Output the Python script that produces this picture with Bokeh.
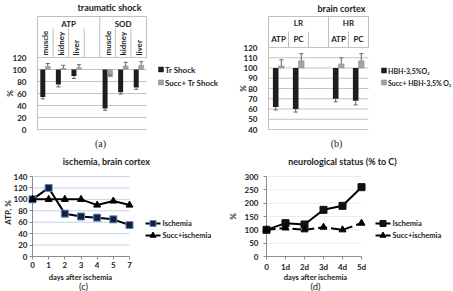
import math
from bokeh.plotting import figure
from bokeh.models import Range1d, FixedTicker, Whisker, ColumnDataSource, TeeHead
from bokeh.layouts import column, row
from bokeh.core.properties import value
from bokeh.embed import file_html
from bokeh.resources import INLINE

FONT = "Lato"
DARK = "#1e1e1e"
LIGHT = "#a3a3a3"
HDR = "#bfbfbf"
TXT = "#222222"

# ---------------- data (a) traumatic shock
a_groups = ["ATP", "ATP", "ATP", "SOD", "SOD", "SOD"]
a_tissues = ["muscle", "kidney", "liver", "muscle", "kidney", "liver"]
a_shock = [54, 75, 89, 35, 62, 70]
a_shock_err = [3, 4, 4, 3, 3, 3]
a_succ = [105, 102, 103, 88, 106, 107]
a_succ_err = [5, 5, 5, 3, 6, 6]
a_base = 100
a_yticks = [0, 20, 40, 60, 80, 100, 120]
a_names = ["Tr Shock", "Succ+ Tr Shock"]

# ---------------- data (b) brain cortex
b_groups = ["LR", "LR", "HR", "HR"]
b_params = ["ATP", "PC", "ATP", "PC"]
b_hbh = [62, 60, 70, 68]
b_hbh_err = [3, 3, 3, 4]
b_succ = [102, 107, 104, 107]
b_succ_err = [6, 7, 6, 7]
b_base = 100
b_yticks = [40, 50, 60, 70, 80, 90, 100, 110, 120]
b_names = ["HBH-3,5%O\u2082", "Succ+ HBH-3,5% O\u2082"]

# ---------------- data (c) ischemia, brain cortex
c_days = ["0", "1", "2", "3", "4", "5", "7"]
c_isch = [100, 120, 75, 70, 68, 65, 55]
c_succ = [100, 100, 100, 100, 90, 97, 90]
c_yticks = [0, 20, 40, 60, 80, 100, 120, 140]

# ---------------- data (d) neurological status
d_days = ["0", "1d", "2d", "3d", "4d", "5d"]
d_isch = [100, 125, 120, 175, 190, 260]
d_succ = [100, 107, 100, 110, 100, 125]
d_yticks = [0, 50, 100, 150, 200, 250, 300]

line_names = ["Ischemia", "Succ+ischemia"]


def slot_positions(groups):
    pos, q = [], -1
    for i, g in enumerate(groups):
        q += 1 if (i == 0 or g == groups[i - 1]) else 2
        pos.append(q)
    return pos


def txt(p, x, y, text, size, style="bold", font=FONT, angle=0.0, align="center"):
    p.text(x=[x], y=[y], text=[text], text_font=value(font), text_font_size=size,
           text_font_style=style, text_align=align, text_baseline="middle", angle=angle,
           text_color=TXT, level="overlay")


def style_axis(ax, standoff, tick_color=None):
    ax.major_label_standoff = standoff
    ax.major_label_text_font = FONT
    ax.major_label_text_font_style = "bold"
    ax.major_label_text_font_size = "8px"
    ax.major_label_text_color = TXT
    ax.minor_tick_line_color = None
    if tick_color is None:
        ax.major_tick_line_color = None
    else:
        ax.major_tick_line_color = tick_color
        ax.major_tick_out = 3
        ax.major_tick_in = 0


def full_fig(W, H, xr, yr, with_x_axis):
    kw = dict(width=W, height=H, x_range=xr, y_range=yr, output_backend="svg", toolbar_location=None,
              min_border_left=0, min_border_right=0, min_border_top=0, min_border_bottom=0)
    if not with_x_axis:
        kw["x_axis_location"] = None
    p = figure(**kw)
    p.outline_line_color = None
    p.grid.visible = False
    return p


def bar_panel(W, H, L, sp, B0, ystart, k, groups, subs, v1, e1, v2, e2, base, yticks, names,
              top_px, grp_px, subtop_px, sub_px, rotate, bw, title, title_xy, cap, cap_xy,
              ylab_xy, leg_x, leg_y1, leg_y2, leg_size):
    """All *_px / *_xy values are pixels from the top-left corner of this panel."""
    def vx(px):
        return -0.5 + (px - L) / sp

    def vy(px):
        return ystart + (B0 - px) / k

    pos = slot_positions(groups)
    nslots = pos[-1] + 1
    p = full_fig(W, H, Range1d(vx(0), vx(W)), Range1d(vy(H), vy(0)), False)
    p.yaxis.fixed_location = -0.5
    p.yaxis.ticker = FixedTicker(ticks=yticks)
    p.yaxis.bounds = (yticks[0], yticks[-1])
    p.yaxis.axis_line_color = HDR
    style_axis(p.yaxis, 5)

    # grid lines over the chart area only
    p.segment(x0=[-0.5] * len(yticks), y0=yticks, x1=[nslots - 0.5] * len(yticks), y1=yticks,
              line_color="#c4c4c4", line_width=1)

    # header table
    ugroups = []
    for g in groups:
        if g not in ugroups:
            ugroups.append(g)
    spans = []
    for gi, g in enumerate(ugroups):
        first = pos[groups.index(g)]
        if gi + 1 < len(ugroups):
            end = pos[groups.index(ugroups[gi + 1])] - 0.5
        else:
            end = pos[len(groups) - 1] + 0.5
        spans.append((first - 0.5, end))
    top = vy(top_px)
    top_line = yticks[-1]
    p.segment(x0=[-0.5], y0=[top], x1=[nslots - 0.5], y1=[top], line_color=HDR, line_width=1)
    gx = sorted(set([s[0] for s in spans] + [s[1] for s in spans]))
    p.segment(x0=gx, y0=[top_line] * len(gx), x1=gx, y1=[top] * len(gx), line_color=HDR, line_width=1)
    sx = []
    for s in spans:
        xx = s[0] + 1
        while xx < s[1] - 0.01:
            sx.append(xx)
            xx += 1
    p.segment(x0=sx, y0=[top_line] * len(sx), x1=sx, y1=[vy(subtop_px)] * len(sx), line_color=HDR, line_width=1)
    p.text(x=[(s[0] + s[1]) / 2 for s in spans], y=[vy(grp_px)] * len(spans), text=ugroups,
           text_font=value(FONT), text_font_size="8px", text_font_style="bold",
           text_align="center", text_baseline="middle", text_color=TXT)
    if rotate:
        p.text(x=pos, y=[vy(sub_px)] * len(pos), text=subs, angle=math.pi / 2,
               text_font=value(FONT), text_font_size="8px", text_font_style="bold",
               text_align="left", text_baseline="middle", text_color=TXT)
    else:
        p.text(x=pos, y=[vy(sub_px)] * len(pos), text=subs,
               text_font=value(FONT), text_font_size="8px", text_font_style="bold",
               text_align="center", text_baseline="middle", text_color=TXT)

    n = len(pos)
    s1 = ColumnDataSource(dict(x=[q - bw / 2 for q in pos], top=[base] * n, bottom=v1,
                               lower=[v - e for v, e in zip(v1, e1)], upper=v1))
    s2 = ColumnDataSource(dict(x=[q + bw / 2 for q in pos], top=v2, bottom=[base] * n,
                               lower=v2, upper=[v + e for v, e in zip(v2, e2)]))
    p.vbar(x="x", top="top", bottom="bottom", width=bw, source=s1, fill_color=DARK, line_color=None)
    p.vbar(x="x", top="top", bottom="bottom", width=bw, source=s2, fill_color=LIGHT,
           line_color="#8c8c8c", line_width=0.5)
    p.add_layout(Whisker(source=s1, base="x", upper="upper", lower="lower", line_color="#666666",
                         upper_head=None, lower_head=TeeHead(size=4, line_color="#666666"), level="overlay"))
    p.add_layout(Whisker(source=s2, base="x", upper="upper", lower="lower", line_color="#666666",
                         lower_head=None, upper_head=TeeHead(size=4, line_color="#666666"), level="overlay"))

    # legend (right of the chart)
    p.rect(x=[vx(leg_x), vx(leg_x)], y=[vy(leg_y1), vy(leg_y2)], width=5, height=5,
           width_units="screen", height_units="screen",
           fill_color=[DARK, LIGHT], line_color=[DARK, "#808080"], line_width=0.5)
    p.text(x=[vx(leg_x + 4)] * 2, y=[vy(leg_y1), vy(leg_y2)], text=names, text_font=value(FONT),
           text_font_size=leg_size, text_font_style="bold", text_align="left", text_baseline="middle",
           text_color=TXT)

    txt(p, vx(title_xy[0]), vy(title_xy[1]), title, "9px")
    txt(p, vx(cap_xy[0]), vy(cap_xy[1]), cap, "10px", style="normal", font="Liberation Serif")
    txt(p, vx(ylab_xy[0]), vy(ylab_xy[1]), "%", "8px", angle=math.pi / 2)
    return p


def line_panel(W, H, L, B, sp, k, days, s1, s2, yticks, grid_color, dash2, sq_fill, sq_line,
               ylab, ylab_xy, ystand, title, title_xy, xlab_xy, cap, cap_xy, leg_x0, leg_y1, leg_y2):
    def vx(px):
        return (px - L) / sp

    def vy(px):
        return (B - px) / k

    n = len(days)
    x = list(range(n))
    p = full_fig(W, H, Range1d(vx(0), vx(W)), Range1d(vy(H), vy(0)), True)
    p.xaxis.fixed_location = 0
    p.yaxis.fixed_location = 0
    p.xaxis.ticker = FixedTicker(ticks=x)
    p.xaxis.major_label_overrides = {i: d for i, d in enumerate(days)}
    p.xaxis.bounds = (0, n - 1)
    p.yaxis.ticker = FixedTicker(ticks=yticks)
    p.yaxis.bounds = (yticks[0], yticks[-1])
    for ax in (p.xaxis, p.yaxis):
        ax.axis_line_color = "#8c8c8c"
        style_axis(ax, 2, "#8c8c8c")
    p.yaxis.major_label_standoff = ystand

    # grid lines over the chart area only
    if grid_color is not None:
        p.segment(x0=[0] * len(yticks), y0=yticks, x1=[n - 1] * len(yticks), y1=yticks,
                  line_color=grid_color, line_width=1)

    p.line(x, s1, line_color="black", line_width=2, level="overlay")
    p.scatter(x, s1, marker="square", size=7, fill_color=sq_fill, line_color=sq_line, line_width=1, level="overlay")
    p.line(x, s2, line_color="black", line_width=2, line_dash=dash2, level="overlay")
    p.scatter(x, s2, marker="triangle", size=7, fill_color="black", line_color="black", level="overlay")

    # legend (right of the chart)
    x0, x1 = vx(leg_x0), vx(leg_x0 + 15)
    xm = vx(leg_x0 + 7.5)
    p.segment(x0=[x0], y0=[vy(leg_y1)], x1=[x1], y1=[vy(leg_y1)], line_color="black", line_width=2)
    p.segment(x0=[x0], y0=[vy(leg_y2)], x1=[x1], y1=[vy(leg_y2)], line_color="black", line_width=2,
              line_dash="7 3")
    p.scatter(x=[xm], y=[vy(leg_y1)], marker="square", size=6, fill_color=sq_fill, line_color=sq_line)
    p.scatter(x=[xm], y=[vy(leg_y2)], marker="triangle", size=6, fill_color="black", line_color="black")
    p.text(x=[vx(leg_x0 + 17)] * 2, y=[vy(leg_y1), vy(leg_y2)], text=line_names, text_font=value(FONT),
           text_font_size="7.5px", text_font_style="bold", text_align="left", text_baseline="middle",
           text_color=TXT)

    txt(p, vx(title_xy[0]), vy(title_xy[1]), title, "9px")
    txt(p, vx(xlab_xy[0]), vy(xlab_xy[1]), "days after ischemia", "7.5px")
    txt(p, vx(cap_xy[0]), vy(cap_xy[1]), cap, "9.5px", style="normal")
    txt(p, vx(ylab_xy[0]), vy(ylab_xy[1]), ylab, "8px", angle=math.pi / 2)
    return p


# ================= panel (a): 226 x 150, chart x 37..146 (7 slots), y=0 at 129, 120 at 57
pa = bar_panel(226, 150, 37, 109 / 7, 129, 0, 0.6, a_groups, a_tissues, a_shock, a_shock_err,
               a_succ, a_succ_err, a_base, a_yticks, a_names,
               16, 23, 28, 55, True, 0.32, "traumatic shock", (109, 7), "(a)", (100, 143),
               (9, 93), 160.5, 69, 82, "8px")

# ================= panel (b): 227 x 150, chart x 42..142 (5 slots), y=40 at 129, 120 at 47
pb = bar_panel(227, 150, 42, 20, 129, 40, 1.025, b_groups, b_params, b_hbh, b_hbh_err,
               b_succ, b_succ_err, b_base, b_yticks, b_names,
               16, 22, 31, 38, False, 0.28, "brain cortex", (115, 8), "(b)", (110, 143),
               (16, 88), 157.5, 70, 82, "7px")

# ================= panel (c): 226 x 141, chart x 32..129, y 26..106
pc = line_panel(226, 141, 32, 106, 97 / 6, 80 / 140, c_days, c_isch, c_succ, c_yticks, "#c5d4e6", "solid",
                "#14203a", "#5b84c4", "ATP, %", (7, 62), 2, "ischemia,  brain cortex", (107, 11),
                (80, 127), "(c)", (83, 136), 145, 73, 85)

# ================= panel (d): 227 x 141, chart x 40..135, y 26..106
pd_ = line_panel(227, 141, 40, 106, 19, 80 / 300, d_days, d_isch, d_succ, d_yticks, "#ececec", "9 4",
                 "#111111", "#111111", "%", (6, 66), 5, "neurological status (% to C)", (116, 11),
                 (89, 127), "(d)", (89, 136), 149, 73, 85)

layout = column(row(pa, pb), row(pc, pd_))
open("out.html", "w").write(file_html(layout, INLINE))
